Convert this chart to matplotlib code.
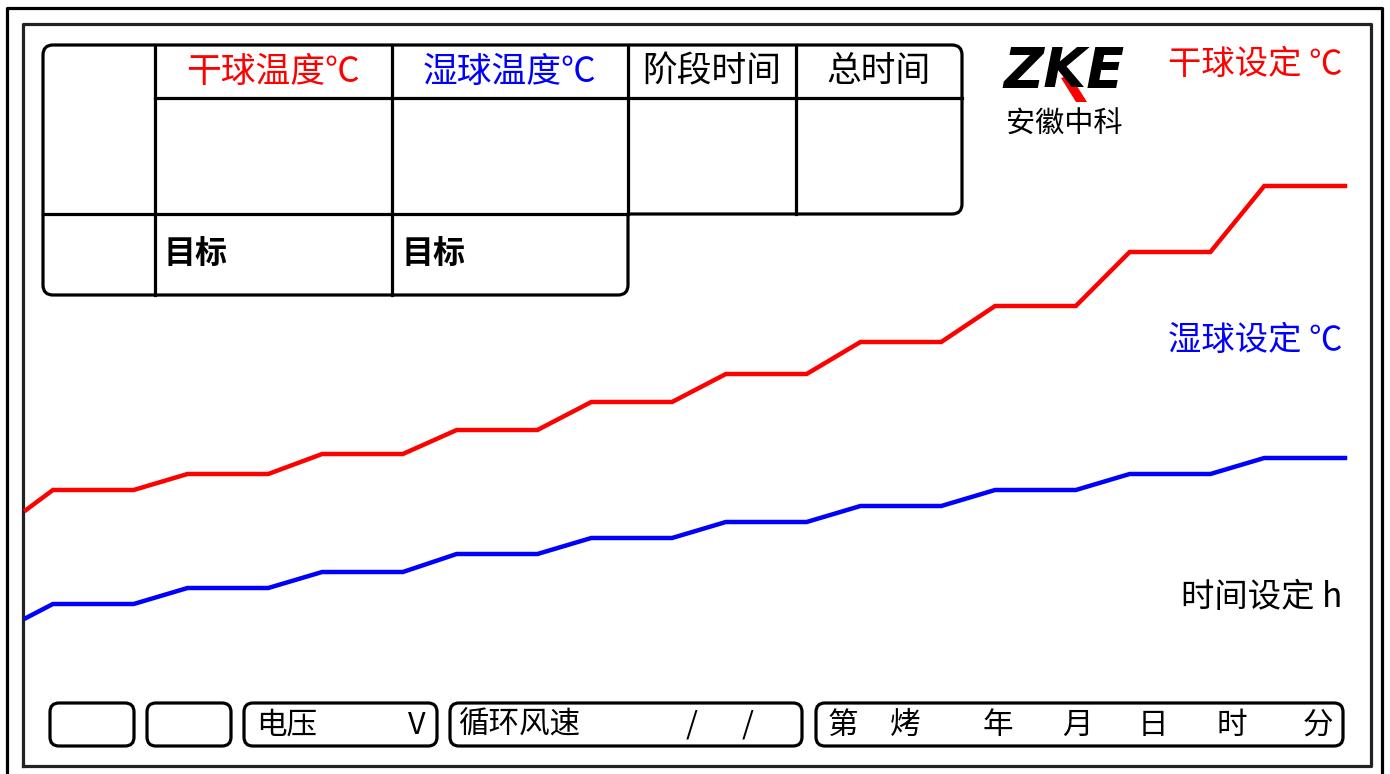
import matplotlib
matplotlib.use("Agg")
import matplotlib.pyplot as plt
from matplotlib.path import Path
from matplotlib.patches import PathPatch, Polygon

plt.rcParams['font.family'] = ['Noto Sans CJK SC', 'DejaVu Sans']

# curing profile: time (h) and set temperatures (°C)
hours = [0, 1, 4, 6, 9, 11, 14, 16, 19, 21, 24, 26, 29, 31, 34, 36, 39, 41, 44, 46, 49]
dry_set = [33.5, 36, 36, 38, 38, 40.5, 40.5, 43.5, 43.5, 47, 47, 50.5, 50.5,
           54.5, 54.5, 59, 59, 65.75, 65.75, 74, 74]
wet_set = [20, 21.75, 21.75, 23.75, 23.75, 25.75, 25.75, 28, 28, 30, 30, 32, 32,
           34, 34, 36, 36, 38, 38, 40, 40]

header_labels = ['干球温度℃', '湿球温度℃', '阶段时间', '总时间']
header_colors = ['#ff0000', '#0000ff', 'black', 'black']
side_labels = ['干球设定 ℃', '湿球设定 ℃', '时间设定 h']
side_colors = ['#ff0000', '#0000ff', 'black']
date_labels = ['第', '烤', '年', '月', '日', '时', '分']

W, H = 1390, 774
fig = plt.figure(figsize=(W / 100, H / 100), dpi=100)
fig.patch.set_facecolor('white')

# background layer in pixel units for the panel drawing
bg = fig.add_axes([0, 0, 1, 1])
bg.set_xlim(0, W)
bg.set_ylim(H, 0)
bg.axis('off')


def rounded_poly(ax, pts, radii, lw=2.3, color='black'):
    verts, codes = [], []
    n = len(pts)
    for i in range(n):
        px, py = pts[i - 1]
        cx, cy = pts[i]
        nx, ny = pts[(i + 1) % n]
        r = radii[i]
        d1 = ((cx - px) ** 2 + (cy - py) ** 2) ** 0.5
        d2 = ((nx - cx) ** 2 + (ny - cy) ** 2) ** 0.5
        a = (cx + (px - cx) * r / d1, cy + (py - cy) * r / d1)
        b = (cx + (nx - cx) * r / d2, cy + (ny - cy) * r / d2)
        verts += [a, (cx, cy), b]
        codes += [Path.MOVETO if i == 0 else Path.LINETO, Path.CURVE3, Path.CURVE3]
    verts.append(verts[0])
    codes.append(Path.CLOSEPOLY)
    ax.add_patch(PathPatch(Path(verts, codes), fill=False, lw=lw, ec=color,
                           joinstyle='miter'))


def box(ax, x0, y0, x1, y1, r=9, lw=2.3):
    rounded_poly(ax, [(x0, y0), (x1, y0), (x1, y1), (x0, y1)], [r] * 4, lw=lw)


# outer frames
bg.plot([7, 7, 1382, 1382], [800, 8, 8, 800], color='black', lw=2.3)
bg.plot([23, 23, 1371, 1371, 23], [766, 24, 24, 766, 766], color='#222222', lw=2.3)

# table outline
rounded_poly(bg, [(43, 45), (962, 45), (962, 214), (628, 214), (628, 295), (43, 295)],
             [10, 10, 10, 0.01, 10, 10])
bg.plot([155, 155], [45, 295], color='black', lw=2.3)
bg.plot([392, 392], [45, 295], color='black', lw=2.3)
bg.plot([628, 628], [45, 214], color='black', lw=2.3)
bg.plot([796, 796], [45, 214], color='black', lw=2.3)
bg.plot([155, 962], [98, 98], color='black', lw=2.3)
bg.plot([43, 628], [214, 214], color='black', lw=2.3)

col_centers = [273, 510, 712, 879]
for cx, lab, c in zip(col_centers, header_labels, header_colors):
    bg.text(cx, 72, lab, color=c, fontsize=25, ha='center', va='center')
bg.text(164, 255, '目标', fontsize=23, fontweight='bold', ha='left', va='center')
bg.text(401, 255, '目标', fontsize=23, fontweight='bold', ha='left', va='center')

# logo
bg.text(1064, 72, 'ZKE', fontsize=40, fontweight='heavy', fontstyle='italic',
        family='DejaVu Sans', ha='center', va='center')
bg.add_patch(Polygon([(1061, 78), (1070, 75), (1087, 102), (1076, 102)],
                     closed=True, color='#ff0000', lw=0))
bg.text(1064, 125, '安徽中科', fontsize=21, ha='center', va='center')

# side labels
for y, lab, c in zip([64, 340, 597], side_labels, side_colors):
    bg.text(1342, y, lab, color=c, fontsize=24, ha='right', va='center')

# bottom status buttons
box(bg, 50, 703, 134, 746)
box(bg, 147, 703, 231, 746)
box(bg, 244, 703, 437, 746)
box(bg, 450, 703, 802, 746)
box(bg, 816, 703, 1343, 746)
bg.text(256, 725, '电压', fontsize=22, ha='left', va='center')
bg.text(426, 725, 'V', fontsize=22, ha='right', va='center')
bg.text(458, 725, '循环风速', fontsize=22, ha='left', va='center')
bg.text(692, 725, '/', fontsize=22, ha='center', va='center')
bg.text(748, 725, '/', fontsize=22, ha='center', va='center')
for x, lab in zip([843, 905, 998, 1077, 1153, 1232, 1318], date_labels):
    bg.text(x, 725, lab, fontsize=22, ha='center', va='center')

# curve layer
ax = fig.add_axes([26 / W, 1 - 650 / H, (1345 - 26) / W, 500 / H])
ax.set_xlim(0, 49)
ax.set_ylim(16, 78.5)
ax.axis('off')
ax.patch.set_alpha(0)
ax.plot(hours, dry_set, color='#ff0000', lw=3.2, solid_joinstyle='miter', clip_on=False)
ax.plot(hours, wet_set, color='#0000ff', lw=3.2, solid_joinstyle='miter', clip_on=False)

fig.savefig('out.png', dpi=100)
